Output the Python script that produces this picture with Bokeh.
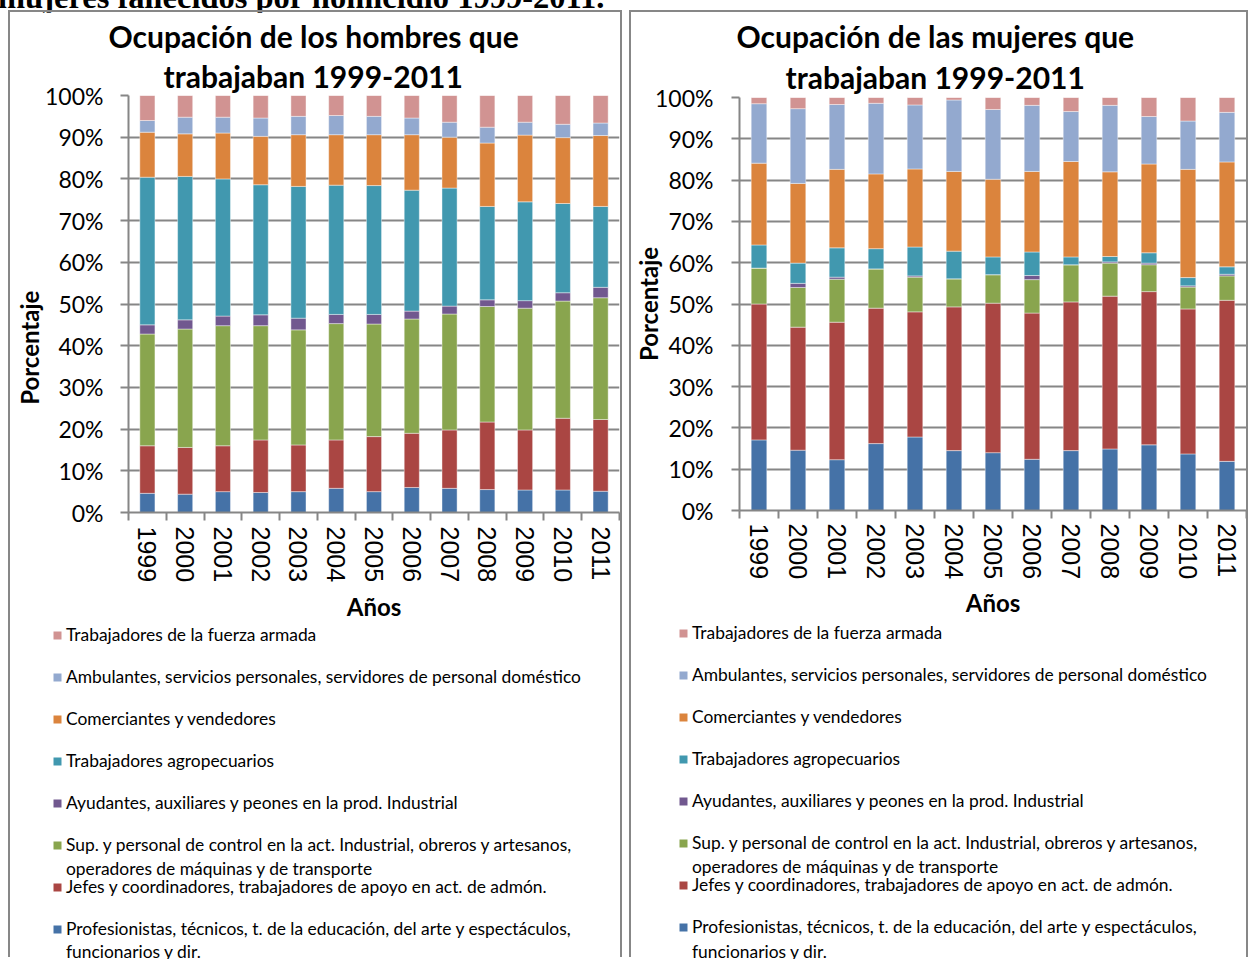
import math
from bokeh.plotting import figure
from bokeh.models import (FixedTicker, PrintfTickFormatter, Legend, LegendItem,
                          ColumnDataSource, Range1d, Title, Spacer, Div)
from bokeh.layouts import row, column
from bokeh.embed import file_html
from bokeh.resources import INLINE

years = list(range(1999, 2012))

# series keys (bottom to top of the stack)
series_keys = ["prof", "jefes", "sup", "ayud", "agro", "com", "amb", "fza"]

# legend texts (first line, continuation line)
legend_labels = [
    ("Profesionistas, técnicos, t. de la educación, del arte y espectáculos,", "funcionarios y dir."),
    ("Jefes y coordinadores, trabajadores de apoyo en act. de admón.", None),
    ("Sup. y personal de control en la act. Industrial, obreros y artesanos,", "operadores de máquinas y de transporte"),
    ("Ayudantes, auxiliares y peones en la prod. Industrial", None),
    ("Trabajadores agropecuarios", None),
    ("Comerciantes y vendedores", None),
    ("Ambulantes, servicios personales, servidores de personal doméstico", None),
    ("Trabajadores de la fuerza armada", None),
]

colors = ["#4572A7", "#AA4643", "#89A54E", "#71588F", "#4198AF", "#DB843D", "#93A9CF", "#D19392"]

# Hombres (percent of each occupation per year)
h_prof = [4.6, 4.4, 5.0, 4.8, 5.0, 5.8, 5.0, 6.0, 5.8, 5.5, 5.4, 5.4, 5.1]
h_jefes = [11.4, 11.2, 11.0, 12.6, 11.2, 11.6, 13.2, 13.0, 14.0, 16.2, 14.4, 17.2, 17.2]
h_sup = [26.8, 28.4, 28.8, 27.4, 27.6, 27.9, 27.0, 27.4, 27.8, 27.7, 29.2, 28.1, 29.2]
h_ayud = [2.2, 2.2, 2.3, 2.6, 2.8, 2.2, 2.3, 1.9, 1.9, 1.6, 1.8, 2.0, 2.5]
h_agro = [35.4, 34.4, 32.9, 31.2, 31.6, 31.0, 30.9, 29.0, 28.3, 22.4, 23.7, 21.4, 19.4]
h_com = [10.8, 10.2, 11.0, 11.6, 12.4, 12.1, 12.2, 13.3, 12.2, 15.2, 16.0, 15.8, 17.0]
h_amb = [2.8, 4.0, 3.8, 4.4, 4.4, 4.6, 4.4, 4.0, 3.6, 3.8, 3.1, 3.2, 3.0]
h_fza = [6.0, 5.2, 5.2, 5.4, 5.0, 4.8, 5.0, 5.4, 6.4, 7.6, 6.4, 6.9, 6.6]

# Mujeres
m_prof = [17.1, 14.6, 12.3, 16.2, 17.8, 14.5, 14.0, 12.4, 14.5, 14.9, 15.9, 13.7, 11.9]
m_jefes = [32.9, 29.8, 33.3, 32.8, 30.3, 34.8, 36.2, 35.4, 36.0, 37.0, 37.1, 35.1, 39.0]
m_sup = [8.7, 9.6, 10.4, 9.5, 8.4, 6.8, 6.9, 8.1, 9.0, 8.0, 6.5, 5.3, 5.9]
m_ayud = [0.0, 1.0, 0.5, 0.0, 0.3, 0.0, 0.0, 1.0, 0.0, 0.3, 0.4, 0.3, 0.4]
m_agro = [5.6, 4.9, 7.1, 4.9, 7.0, 6.7, 4.3, 5.7, 1.9, 1.3, 2.5, 2.0, 1.8]
m_com = [19.8, 19.3, 19.0, 18.1, 18.9, 19.3, 18.8, 19.5, 23.1, 20.5, 21.5, 26.2, 25.4]
m_amb = [14.4, 18.1, 15.7, 17.1, 15.5, 17.3, 16.9, 16.0, 12.1, 16.1, 11.5, 11.7, 12.0]
m_fza = [1.5, 2.7, 1.7, 1.4, 1.8, 0.6, 2.9, 1.9, 3.4, 1.9, 4.6, 5.7, 3.6]

y_ticks = list(range(0, 101, 10))

header_text = "mujeres fallecidos por homicidio 1999-2011."

FONT = "Lato"
NUMFONT = "Liberation Sans"
GRAY = "#868686"
NBSP = "\u00a0"


def make_chart(series, title_lines, cfg):
    data = {"x": years}
    for k, v in zip(series_keys, series):
        data[k] = v
    src = ColumnDataSource(data)

    p = figure(width=cfg["w"], height=cfg["h"],
               x_range=Range1d(1998.5, 2011.5), y_range=Range1d(0, 100),
               output_backend="svg", toolbar_location=None,
               min_border_left=cfg["bl"], min_border_right=cfg["br"],
               min_border_top=cfg["bt"], min_border_bottom=cfg["h"] - cfg["bt"] - cfg["fh"],
               outline_line_color=None)
    p.frame_align = False

    rends = p.vbar_stack(series_keys, x="x", width=0.4, color=colors, source=src,
                         line_color="white", line_width=0.6, line_alpha=0.7)

    # titles: p.title is the outer line, the added one sits next to the frame
    p.title.text = title_lines[0]
    p.title.align = "left"
    p.title.offset = cfg["toff"][0]
    p.title.standoff = 0
    p.title.text_font = FONT
    p.title.text_font_style = "bold"
    p.title.text_font_size = "30px"
    p.title.text_color = "black"
    p.add_layout(Title(text=title_lines[1], align="left", offset=cfg["toff"][1],
                       standoff=cfg["tstand"],
                       text_font=FONT, text_font_style="bold", text_font_size="30px",
                       text_color="black"), "above")

    # grid
    p.xgrid.grid_line_color = None
    p.ygrid.ticker = FixedTicker(ticks=y_ticks)
    p.ygrid.grid_line_color = GRAY
    p.ygrid.grid_line_width = 2

    # y axis
    ya = p.yaxis[0]
    ya.ticker = FixedTicker(ticks=y_ticks)
    ya.formatter = PrintfTickFormatter(format="%d%%")
    ya.major_tick_out = 8
    ya.major_tick_in = 0
    ya.minor_tick_out = 0
    ya.minor_tick_in = 0
    ya.axis_line_color = GRAY
    ya.axis_line_width = 2
    ya.major_tick_line_color = GRAY
    ya.major_tick_line_width = 2
    ya.major_label_text_font = FONT
    ya.major_label_text_font_size = "23px"
    ya.major_label_text_color = "black"
    ya.major_label_standoff = cfg["ystand"]
    ya.axis_label = "Porcentaje" + NBSP * cfg["ypad"]
    ya.axis_label_text_font = FONT
    ya.axis_label_text_font_style = "bold"
    ya.axis_label_text_font_size = "24px"
    ya.axis_label_text_color = "black"
    ya.axis_label_standoff = cfg["ylstand"]

    # x axis
    xa = p.xaxis[0]
    xa.ticker = FixedTicker(ticks=years, minor_ticks=[y - 0.5 for y in years] + [years[-1] + 0.5])
    xa.major_label_overrides = {y: str(y) for y in years}
    xa.major_label_orientation = "vertical"
    xa.major_tick_out = 0
    xa.major_tick_in = 0
    xa.minor_tick_out = 8
    xa.minor_tick_in = 0
    xa.minor_tick_line_color = GRAY
    xa.minor_tick_line_width = 2
    xa.axis_line_color = GRAY
    xa.axis_line_width = 2
    xa.major_label_text_font = NUMFONT
    xa.major_label_text_font_size = "25px"
    xa.major_label_text_color = "black"
    xa.major_label_standoff = cfg["xstand"][0]
    xa.axis_label = "Años"
    xa.axis_label_text_font = FONT
    xa.axis_label_text_font_style = "bold"
    xa.axis_label_text_font_size = "24px"
    xa.axis_label_text_color = "black"
    xa.axis_label_standoff = cfg["xstand"][1]

    # legend, drawn in its own strip below the chart
    pl = figure(width=cfg["w"], height=cfg["lh"], x_range=Range1d(0, 1), y_range=Range1d(0, 1),
                output_backend="svg", toolbar_location=None, min_border=0,
                min_border_left=0, min_border_right=0, min_border_top=0, min_border_bottom=0,
                x_axis_location=None, y_axis_location=None, outline_line_color=None)
    pl.frame_align = False
    pl.grid.visible = False
    # swatch renderers: one point each, placed outside the visible range
    swatches = [pl.vbar(x=[5], top=[0], width=0.4, fill_color=c, line_color=None) for c in colors]
    blank = pl.vbar(x=[5], top=[0], width=0.4, fill_alpha=0, line_alpha=0)

    leg_kw = dict(orientation="vertical", glyph_width=10, glyph_height=10, label_height=21,
                  padding=0, margin=0, label_standoff=4, border_line_color=None,
                  background_fill_alpha=0, label_text_font=FONT,
                  label_text_font_size="17.4px", label_text_color="black")
    items = [LegendItem(label=legend_labels[i][0], renderers=[swatches[i]])
             for i in reversed(range(len(series_keys)))]
    pl.add_layout(Legend(items=items, location=cfg["leg"], spacing=cfg["pitch"] - 21, **leg_kw))
    for i, ly in cfg["cont"]:
        it = LegendItem(label=legend_labels[i][1], renderers=[blank])
        pl.add_layout(Legend(items=[it], location=(cfg["leg"][0], ly), spacing=0, **leg_kw))

    panel = column(p, pl, spacing=0,
                   styles={"box-shadow": "-2px -2px 0 0 #878787, 2px -2px 0 0 #878787"})
    return panel


cfg_h = dict(w=610, h=612, bl=118, br=1, bt=83, fh=417, ystand=17, ypad=15, ylstand=-2,
             xstand=(6, 7), toff=[-20, 35], tstand=4,
             lh=335, leg=(42, 20), pitch=42, cont=[(2, 80), (0, -3)])
cfg_m = dict(w=615, h=610, bl=107, br=0, bt=85, fh=413, ystand=18, ypad=0, ylstand=-11,
             xstand=(5, 6), toff=[-3, 46], tstand=6,
             lh=337, leg=(47, 22), pitch=42, cont=[(2, 82), (0, -3)])

panel1 = make_chart([h_prof, h_jefes, h_sup, h_ayud, h_agro, h_com, h_amb, h_fza],
                    ["Ocupación de los hombres que", "trabajaban 1999-2011"], cfg_h)
panel2 = make_chart([m_prof, m_jefes, m_sup, m_ayud, m_agro, m_com, m_amb, m_fza],
                    ["Ocupación de las mujeres que", "trabajaban 1999-2011"], cfg_m)

header = Div(text=('<div style="position:relative; top:-19px; left:-2px; white-space:nowrap; '
                   'font-family:\'Liberation Serif\'; font-weight:bold; font-size:32.5px; '
                   'line-height:32px; color:black;">' + header_text + '</div>'),
             width=640, height=12, margin=(0, 0, 0, 0), styles={"overflow": "visible"})

layout = column(header,
                row(Spacer(width=10), panel1, Spacer(width=11), panel2, spacing=0),
                spacing=0)
open("out.html", "w").write(file_html(layout, INLINE))
